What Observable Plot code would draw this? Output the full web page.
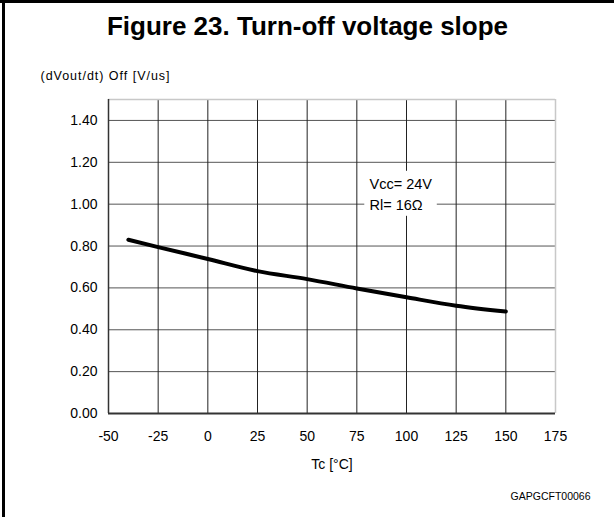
<!DOCTYPE html>
<html><head><meta charset="utf-8">
<script src="https://cdn.jsdelivr.net/npm/d3@7"></script>
<script src="https://cdn.jsdelivr.net/npm/@observablehq/plot@0.6"></script>
<style>
body{margin:0;background:#fff;}
#wrap{position:relative;width:614px;height:517px;overflow:hidden;}
#chart svg{display:block;}
#frameTop{position:absolute;left:0;top:0;width:614px;height:3px;background:#000;}
#frameLeft{position:absolute;left:2px;top:0;width:3px;height:517px;background:#000;}
</style></head>
<body><div id="wrap"><div id="chart"></div><div id="frameTop"></div><div id="frameLeft"></div></div>
<script>
const temperature = [-40, -25, 0, 25, 50, 75, 100, 125, 150];
const slope = [0.83, 0.795, 0.738, 0.68, 0.642, 0.597, 0.555, 0.515, 0.487];
const xTicks = [-50, -25, 0, 25, 50, 75, 100, 125, 150, 175];
const yTicks = [0, 0.2, 0.4, 0.6, 0.8, 1.0, 1.2, 1.4];
const yTickLabels = ["0.00", "0.20", "0.40", "0.60", "0.80", "1.00", "1.20", "1.40"];
const title = "Figure 23. Turn-off voltage slope";
const yLabel = "(dVout/dt) Off [V/us]";
const xLabel = "Tc [°C]";
const code = "GAPGCFT00066";
const noteLines = ["Vcc= 24V", "Rl= 16Ω"];
const noteX = [81.4, 81.4];
const noteY = [1.093, 0.994];
const noteBox = [{x1: 79, x2: 115.5, y1: 0.942, y2: 1.157}];

const data = temperature.map((t, i) => ({t, v: slope[i]}));
const font = "Liberation Sans, Arial, Helvetica, sans-serif";

const chart = Plot.plot({
  width: 614,
  height: 517,
  marginLeft: 108,
  marginRight: 59,
  marginTop: 99,
  marginBottom: 104,
  style: {fontFamily: font, fontSize: "14px", color: "#000", background: "#fff"},
  x: {domain: [-50, 175]},
  y: {domain: [0, 1.5]},
  marks: [
    Plot.ruleY(yTicks.slice(1), {stroke: "#555", strokeWidth: 1}),
    Plot.ruleX(xTicks.slice(1, -1), {stroke: "#222", strokeWidth: 1}),
    Plot.ruleY([1.5], {stroke: "#c8c8c8", strokeWidth: 1.5}),
    Plot.ruleX([175], {stroke: "#c8c8c8", strokeWidth: 1.5}),
    Plot.ruleX([-50], {stroke: "#333", strokeWidth: 1.5}),
    Plot.ruleY([0], {stroke: "#333", strokeWidth: 2}),
    Plot.rect(noteBox, {x1: "x1", x2: "x2", y1: "y1", y2: "y2", fill: "white", inset: 0}),
    Plot.text(noteLines, {x: (d, i) => noteX[i], y: (d, i) => noteY[i], text: d => d, textAnchor: "start", lineAnchor: "middle", fontSize: 14.5, fill: "#000"}),
    Plot.line(data, {x: "t", y: "v", stroke: "#000", strokeWidth: 4, curve: "monotone-x"}),
    Plot.axisY(yTicks, {tickFormat: (d, i) => yTickLabels[i], tickSize: 0, tickPadding: 11, fontSize: 14, label: null}),
    Plot.axisX(xTicks, {tickFormat: d => String(d), tickSize: 0, tickPadding: 18, fontSize: 14, label: null}),
    Plot.text([title], {frameAnchor: "top-left", dx: 199, dy: -65, textAnchor: "middle", lineAnchor: "bottom", fontSize: 26, fontWeight: "bold", fill: "#000"}),
    Plot.text([yLabel], {frameAnchor: "top-left", dx: -68, dy: -20, textAnchor: "start", lineAnchor: "bottom", fontSize: 12.5, fill: "#000"}),
    Plot.text([xLabel], {frameAnchor: "bottom", dx: 0, dy: 55, textAnchor: "middle", lineAnchor: "bottom", fontSize: 14, fill: "#000"}),
    Plot.text([code], {frameAnchor: "bottom-right", dx: 35, dy: 86, textAnchor: "end", lineAnchor: "bottom", fontSize: 10.5, fill: "#000"})
  ]
});
document.getElementById("chart").appendChild(chart);
d3.select(chart).selectAll("text").filter(function() { return this.textContent === yLabel; })
  .attr("textLength", 129).attr("lengthAdjust", "spacing");
</script>
</body></html>
